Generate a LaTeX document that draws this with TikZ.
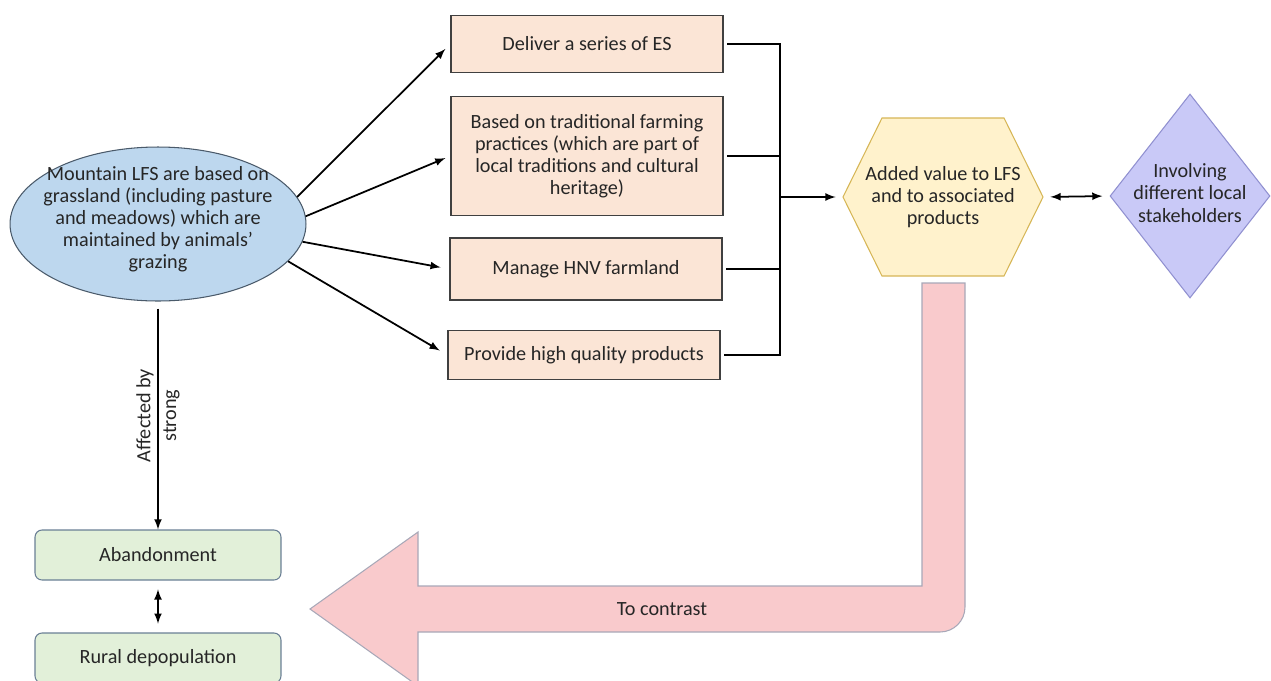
\documentclass[tikz,border=0pt]{standalone}
\usepackage{fontspec}
\setmainfont{Carlito}
\usetikzlibrary{shapes.geometric}
\definecolor{txtGray}{HTML}{262626}
\definecolor{peach}{HTML}{FBE5D6}
\definecolor{boxLine}{HTML}{404040}
\definecolor{ellBlue}{HTML}{BDD7EE}
\definecolor{ellLine}{HTML}{4A5A6A}
\definecolor{hexYellow}{HTML}{FFF2CC}
\definecolor{hexLine}{HTML}{D6B656}
\definecolor{lavender}{HTML}{C9C9F7}
\definecolor{lavLine}{HTML}{9090D0}
\definecolor{paleGreen}{HTML}{E2F0D9}
\definecolor{greenLine}{HTML}{6A7F95}
\definecolor{pinkArrow}{HTML}{F9CACC}
\definecolor{pinkLine}{HTML}{A8A8B8}

\begin{document}
\begin{tikzpicture}[
    x=0.02cm, y=-0.02cm,
    font=\fontsize{11.5}{12.6}\selectfont,
    text=txtGray,
    arr/.style={line width=1pt, -latex},
    dbl/.style={line width=1pt, latex-latex},
    bus/.style={line width=1.2pt},
    box/.style={
        rectangle,
        minimum width=5.44cm,
        draw=boxLine,
        line width=.8pt,
        align=center,
        fill=peach,
      },
    greenbox/.style={
        rectangle,
        rounded corners=4pt,
        minimum width=4.92cm,
        minimum height=1cm,
        draw=greenLine,
        line width=.6pt,
        fill=paleGreen,
      },
  ]
  \useasboundingbox (0,0) rectangle (1271,680);

  % big return arrow
  \draw[pinkLine, fill=pinkArrow, line width=.6pt]
    (922,283) -- (965,283) -- (965,607) arc[start angle=0, end angle=-90, radius=0.5cm]
    -- (418,632) -- (418,686) -- (310,609) -- (418,532) -- (418,586) -- (922,586) -- cycle;
  \node (contr) at (662,609) {To contrast};

  % left column
  \node[ellipse, draw=ellLine, fill=ellBlue, line width=.6pt, minimum width=5.92cm,
    minimum height=3.08cm, inner sep=0] (ell) at (158,224) {};
  \node[align=center] (ellT) at (158,219) {Mountain LFS are based on\\grassland (including pasture\\and meadows) which are\\maintained by animals'\\grazing};

  \node[greenbox] (ab) at (158,555) {Abandonment};
  \node[greenbox] (rd) at (158,658) {Rural depopulation};

  % middle boxes
  \node[box, minimum height=1.14cm] (es) at (587,44) {Deliver a series of ES};
  \node[box, minimum height=2.38cm] (trad) at (587,156) {Based on traditional farming\\practices (which are part of\\local traditions and cultural\\heritage)};
  \node[box, minimum height=1.24cm] (hnv) at (586,269) {Manage HNV farmland};
  \node[box, minimum height=0.98cm] (qual) at (584,355) {Provide high quality products};

  % hexagon
  \draw[hexLine, fill=hexYellow, line width=.6pt]
    (843,197) -- (882,118) -- (1004,118) -- (1043,197) -- (1004,276) -- (882,276) -- cycle;
  \node[minimum width=4cm, minimum height=3.16cm, align=center] (hex) at (943,197) {Added value to LFS\\and to associated\\products};

  % diamond
  \node[diamond, draw=lavLine, fill=lavender, line width=.6pt, minimum width=3.2cm,
    minimum height=4.08cm, inner sep=0] (inv) at (1190,196) {};
  \node[align=center] (invT) at (1190,193) {Involving\\different local\\stakeholders};

  \coordinate (join) at (780,197);

  \draw[arr, shorten >=4pt] (ell.11) -- (es.west);
  \draw[arr, shorten >=3pt] (ell.3) -- (trad.west);
  \draw[arr, shorten >=5pt] (ell.-7) -- (hnv.west);
  \draw[arr, shorten >=5pt] (ell.-16) -- (qual.west);

  \draw[bus] ([xshift=2pt]es.east) -| (join);
  \draw[bus] ([xshift=2pt]trad.east) -| (join);
  \draw[bus] ([xshift=2pt]hnv.east) -| (join);
  \draw[bus] ([xshift=2pt]qual.east) -| (join);
  \draw[arr, shorten >=4pt] (join) -- (hex.west);

  \draw[dbl, shorten <=4pt, shorten >=4pt] (hex.east) -- (inv.west);

  \draw[arr, shorten <=4pt] (ell.south) -- node[rotate=90, align=center] {Affected by\\[2pt]strong} (ab.north);
  \draw[dbl, shorten <=5pt, shorten >=5pt] (ab) -- (rd);
\end{tikzpicture}
\end{document}
